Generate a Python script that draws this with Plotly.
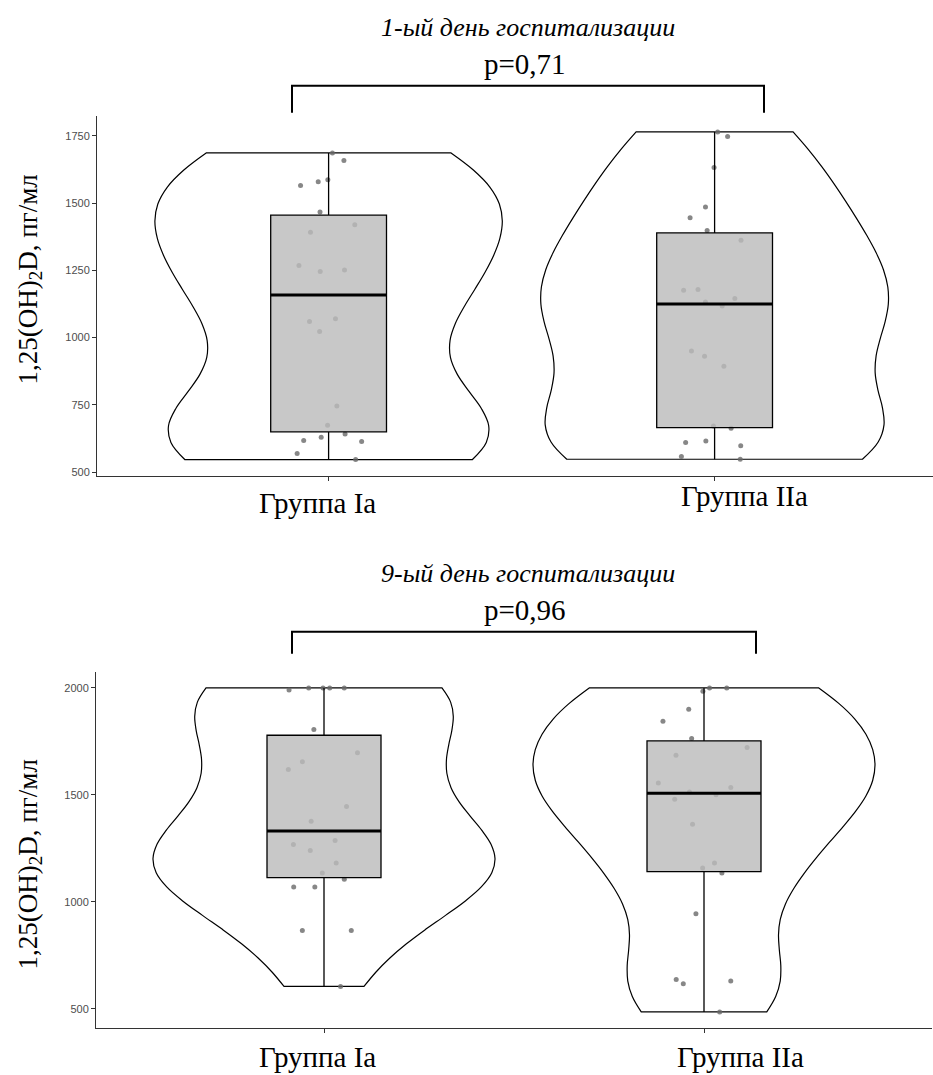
import numpy as np
import plotly.graph_objects as go

# ---------------- data ----------------
groups = ["Группа Ia", "Группа IIa"]

day1_Ia = [1686, 1658, 1586, 1579, 1565, 1467, 1419, 1391, 1268, 1246, 1251,
           1070, 1060, 1023, 746, 674, 642, 630, 614, 618, 569, 547]
day1_IIa = [1764, 1747, 1632, 1485, 1445, 1398, 1362, 1179, 1176, 1145, 1132,
            1117, 950, 931, 894, 663, 672, 616, 598, 610, 558, 548]
day9_Ia = [2000, 2000, 2000, 1990, 2000, 1806, 1697, 1655, 1619, 1446, 1376,
           1287, 1268, 1240, 1181, 1135, 1105, 1069, 1069, 866, 866, 604]
day9_IIa = [1984, 2000, 2000, 1900, 1844, 1763, 1722, 1685, 1556, 1534, 1501,
            1479, 1513, 1362, 1181, 1158, 1135, 944, 637, 629, 617, 485]

titles = ["1-ый день госпитализации", "9-ый день госпитализации"]
p_values = ["p=0,71", "p=0,96"]
yticks_day1 = [500, 750, 1000, 1250, 1500, 1750]
yticks_day9 = [500, 1000, 1500, 2000]
y_title = "1,25(OH)<sub>2</sub>D, пг/мл"

# ---------------- helpers ----------------
W, H = 933, 1075
SERIF = "Liberation Serif, Times New Roman, serif"
SANS = "Liberation Sans, Arial, sans-serif"


def px(x):
    return x / W


def py(y):
    return 1 - y / H


def nrd0(v):
    v = np.asarray(v, float)
    sd = v.std(ddof=1)
    q75, q25 = np.percentile(v, [75, 25])
    return 0.9 * min(sd, (q75 - q25) / 1.34) * len(v) ** -0.2


panels = [
    dict(data=[day1_Ia, day1_IIa], ticks=yticks_day1, xa="x", ya="y",
         xdom=[px(97), 1.0], xrange=[0.4, 0.4 + 836 / 386],
         ydom=[py(476.8), py(115.8)]),
    dict(data=[day9_Ia, day9_IIa], ticks=yticks_day9, xa="x2", ya="y2",
         xdom=[px(96), px(932)], xrange=[0.4, 2.6],
         ydom=[py(1030), py(673)]),
]

fig = go.Figure()

for k, p in enumerate(panels):
    for i, vals in enumerate(p["data"]):
        pos = i + 1
        v = np.asarray(vals, float)
        fig.add_trace(go.Violin(
            x=[pos] * len(v), y=v, xaxis=p["xa"], yaxis=p["ya"],
            points="all", jitter=0.3, pointpos=0, spanmode="hard",
            bandwidth=nrd0(v), scalemode="width", scalegroup=f"g{k}",
            width=0.9, box_visible=False, meanline_visible=False,
            fillcolor="white", line=dict(color="black", width=1.2),
            marker=dict(size=5, color="rgba(105,105,105,0.8)", line=dict(width=0)),
            hoverinfo="skip", showlegend=False,
        ))
        q1, med, q3 = np.percentile(v, [25, 50, 75])
        fig.add_trace(go.Box(
            x=[pos], q1=[q1], median=[med], q3=[q3],
            lowerfence=[v.min()], upperfence=[v.max()],
            xaxis=p["xa"], yaxis=p["ya"], width=0.3, whiskerwidth=0,
            fillcolor="rgba(188,188,188,0.82)", line=dict(color="black", width=1.3),
            boxpoints=False, hoverinfo="skip", showlegend=False,
        ))
        fig.add_trace(go.Scatter(
            x=[pos - 0.15, pos + 0.15], y=[med, med], mode="lines",
            xaxis=p["xa"], yaxis=p["ya"], line=dict(color="black", width=3),
            hoverinfo="skip", showlegend=False,
        ))

axis_common = dict(showgrid=False, zeroline=False, showline=True,
                   linecolor="#333333", linewidth=1, ticks="outside",
                   ticklen=4, tickcolor="#333333", tickwidth=1)

layout = dict(width=W, height=H, margin=dict(l=0, r=0, t=0, b=0),
              plot_bgcolor="white", paper_bgcolor="white", showlegend=False)

for k, p in enumerate(panels):
    allv = np.concatenate([np.asarray(d, float) for d in p["data"]])
    lo, hi = allv.min(), allv.max()
    span = hi - lo
    suffix = "" if k == 0 else "2"
    layout["xaxis" + suffix] = dict(axis_common, domain=p["xdom"], range=p["xrange"],
                                    tickvals=[1, 2], showticklabels=False,
                                    anchor="y" + suffix)
    layout["yaxis" + suffix] = dict(axis_common, domain=p["ydom"],
                                    range=[lo - 0.05 * span, hi + 0.05 * span],
                                    tickvals=p["ticks"],
                                    tickfont=dict(family=SANS, size=11, color="#4d4d4d"),
                                    anchor="x" + suffix)

fig.update_layout(**layout)

ann = []
shapes = []
title_y = [28, 575]
pval_y = [64, 611]
bracket_y = [86, 633]
bracket_end = [113, 655]
bracket_x = [(292, 764), (292, 756)]
xlab_y = [(504, 497), (1059, 1059)]
xlab_x = [(317, 744), (317, 740)]
ytitle_y = [280, 866]


def text_ann(text, x, y, size, angle=0):
    return dict(text=text, x=px(x), y=py(y), xref="paper", yref="paper",
                xanchor="center", yanchor="middle", showarrow=False,
                textangle=angle, font=dict(family=SERIF, size=size, color="black"))


for k in range(2):
    ann.append(text_ann("<i>" + titles[k] + "</i>", 528, title_y[k], 26))
    ann.append(text_ann(p_values[k], 525, pval_y[k], 29))
    for g in range(2):
        ann.append(text_ann(groups[g], xlab_x[k][g], xlab_y[k][g], 29))
    ann.append(text_ann(y_title, 30, ytitle_y[k], 27, angle=-90))
    x0, x1 = bracket_x[k]
    shapes.append(dict(type="path", xref="paper", yref="paper",
                       path=f"M {px(x0)} {py(bracket_end[k])} L {px(x0)} {py(bracket_y[k])} "
                            f"L {px(x1)} {py(bracket_y[k])} L {px(x1)} {py(bracket_end[k])}",
                       line=dict(color="black", width=2)))

fig.update_layout(annotations=ann, shapes=shapes)
fig.write_html("out.html")
